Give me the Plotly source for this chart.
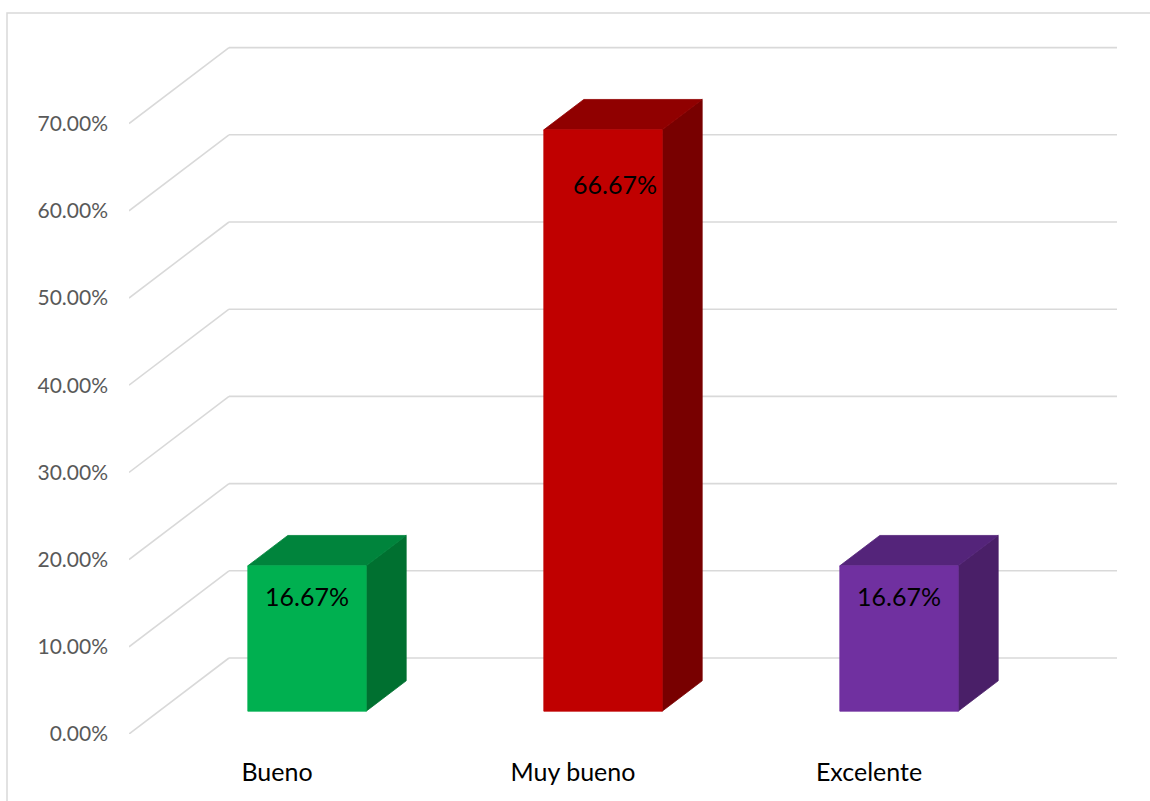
import plotly.graph_objects as go

# ---- data ----
categories = ["Bueno", "Muy bueno", "Excelente"]
values = [0.1667, 0.6667, 0.1667]
label_texts = ["16.67%", "66.67%", "16.67%"]
y_ticks = [0.0, 0.1, 0.2, 0.3, 0.4, 0.5, 0.6, 0.7]

# ---- styles ----
front_colors = ["#00B050", "#C00000", "#7030A0"]
top_colors = ["#00843C", "#900000", "#54247A"]
side_colors = ["#007030", "#780000", "#4A1F68"]
grid_color = "#D9D9D9"
FONT = "Lato"

# ---- geometry (pixel layout) ----
W, H = 1150, 801
L, R, T, B = 129, 20, 20, 67
plot_w = W - L - R
plot_h = H - T - B
px_x = 296.0          # pixels per category
px_y = 872.0          # pixels per unit (100%)
x_range = [-0.5, -0.5 + plot_w / px_x]
y_range = [0.0, plot_h / px_y]
DX = 100.0 / px_x     # depth offset in x units
DY = 76.0 / px_y      # depth offset in y units
BAR_HALF = 0.2
Z0, Z1 = 0.3, 0.7


def proj(x, y, z):
    return x + z * DX, y + z * DY


fig = go.Figure()

# back wall gridlines + side wall diagonals
gx, gy = [], []
for v in y_ticks:
    a = proj(-0.5, v, 1.0)
    b = proj(2.5, v, 1.0)
    gx += [a[0], b[0], None]
    gy += [a[1], b[1], None]
    c = proj(-0.5, v, 0.0)
    gx += [c[0], a[0], None]
    gy += [c[1], a[1], None]
fig.add_trace(go.Scatter(x=gx, y=gy, mode="lines",
                         line=dict(color=grid_color, width=1.6),
                         hoverinfo="skip", showlegend=False))

# 3D bars
for i, (cat, v) in enumerate(zip(categories, values)):
    x0, x1 = i - BAR_HALF, i + BAR_HALF
    f = [proj(x0, 0, Z0), proj(x1, 0, Z0), proj(x1, v, Z0), proj(x0, v, Z0)]
    t = [proj(x0, v, Z0), proj(x1, v, Z0), proj(x1, v, Z1), proj(x0, v, Z1)]
    s = [proj(x1, 0, Z0), proj(x1, 0, Z1), proj(x1, v, Z1), proj(x1, v, Z0)]
    for poly, col in ((s, side_colors[i]), (t, top_colors[i]), (f, front_colors[i])):
        xs = [p[0] for p in poly] + [poly[0][0]]
        ys = [p[1] for p in poly] + [poly[0][1]]
        fig.add_trace(go.Scatter(x=xs, y=ys, mode="lines", fill="toself",
                                 fillcolor=col, line=dict(color=col, width=0.8),
                                 hoverinfo="skip", showlegend=False))

# data labels
for i, (v, txt) in enumerate(zip(values, label_texts)):
    cx, cy = proj(i, v, Z0)
    h = v * px_y
    fig.add_annotation(x=cx, y=cy, text=txt, showarrow=False,
                       xanchor="center", yanchor="middle",
                       yshift=-(22 + 0.055 * h), xshift=(h - 145) * 0.0275,
                       font=dict(family=FONT, size=25, color="#000000"))

# chart border
fig.add_shape(type="rect", xref="paper", yref="paper",
              x0=(7 - L) / plot_w, x1=(W + 3 - L) / plot_w,
              y0=-(H + 3 - (H - B)) / plot_h, y1=((H - B) - 13) / plot_h,
              line=dict(color=grid_color, width=1.5), layer="below")

fig.update_layout(
    width=W, height=H,
    margin=dict(l=L, r=R, t=T, b=B),
    paper_bgcolor="white", plot_bgcolor="white",
    showlegend=False,
    xaxis=dict(range=x_range, tickvals=list(range(len(categories))),
               ticktext=categories, showgrid=False, zeroline=False,
               showline=False, ticks="", ticklabelstandoff=21,
               tickfont=dict(family=FONT, size=25, color="#000000"),
               fixedrange=True),
    yaxis=dict(range=y_range, tickvals=y_ticks, tickformat=".2%",
               showgrid=False, zeroline=False, showline=False, ticks="",
               ticklabelstandoff=20,
               tickfont=dict(family=FONT, size=21, color="#595959"),
               fixedrange=True),
)

fig.write_html("out.html",
               config={"displayModeBar": False, "staticPlot": True},
               post_script="document.body.style.margin='0';document.body.style.overflow='hidden';")
